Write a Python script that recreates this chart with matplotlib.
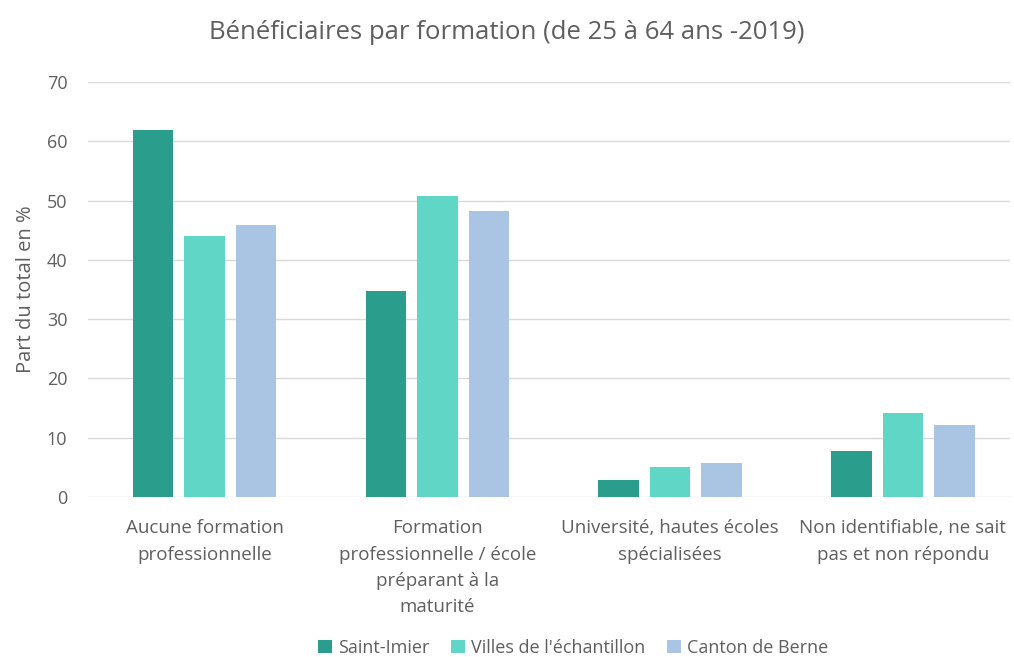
import numpy as np
import matplotlib
matplotlib.use("Agg")
import matplotlib.pyplot as plt

plt.rcParams['font.family'] = ['Open Sans', 'DejaVu Sans']

categories = ["Aucune formation\nprofessionnelle",
              "Formation\nprofessionnelle / école\npréparant à la\nmaturité",
              "Université, hautes écoles\nspécialisées",
              "Non identifiable, ne sait\npas et non répondu"]
series_names = ["Saint-Imier", "Villes de l'échantillon", "Canton de Berne"]
saint_imier = [62.0, 34.7, 2.9, 7.8]
villes = [44.0, 50.8, 5.0, 14.1]
canton = [45.9, 48.2, 5.8, 12.1]
colors = ["#2a9d8c", "#5fd6c6", "#aac4e4"]

grey = "#5f5f5f"

fig = plt.figure(figsize=(10.14, 6.57), dpi=100)
ax = fig.add_axes([0.087, 0.2435, 0.909, 0.6315])

x = np.arange(len(categories))
w = 0.174
step = 0.221
for i, (vals, name) in enumerate(zip([saint_imier, villes, canton], series_names)):
    ax.bar(x + (i - 1) * step, vals, width=w, color=colors[i], label=name, zorder=3)

ax.set_ylim(0, 70)
ax.set_xlim(-0.5, 3.46)
ax.set_yticks(range(0, 71, 10))
ax.yaxis.grid(True, color="#d9d9d9", linewidth=1, zorder=0)
for s in ax.spines.values():
    s.set_visible(False)
ax.tick_params(axis='both', length=0, labelsize=13, colors=grey)
ax.tick_params(axis='y', pad=15)
ax.tick_params(axis='x', pad=16)
ax.set_xticks(x)
ax.set_xticklabels(categories, fontsize=13.5, color=grey, linespacing=1.6, va='top')

ax.set_ylabel("Part du total en %", fontsize=14.5, color=grey, labelpad=8)
fig.suptitle("Bénéficiaires par formation (de 25 à 64 ans -2019)", fontsize=18.5, color=grey, y=0.97)

leg = fig.legend(loc='center', bbox_to_anchor=(0.565, 0.014), ncol=3, frameon=False,
                 fontsize=13, handlelength=0.8, handleheight=0.8, handletextpad=0.3, columnspacing=1.2)
for t in leg.get_texts():
    t.set_color(grey)

fig.savefig("out.png", dpi=100)
